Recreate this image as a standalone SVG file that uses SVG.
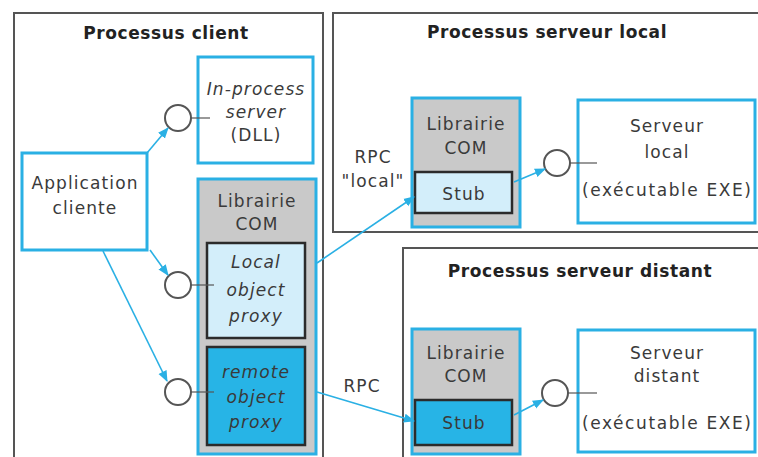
<svg xmlns="http://www.w3.org/2000/svg" width="758" height="457" viewBox="0 0 758 457">
<defs>
<style>
.proc{fill:#fff;stroke:#555;stroke-width:2}
.blue{fill:#fff;stroke:#2ab0e4;stroke-width:3}
.lib{fill:#c9c9c9;stroke:#2ab0e4;stroke-width:3}
.lt{fill:#d3eefa;stroke:#2b2b2b;stroke-width:2.5}
.dk{fill:#27b4e6;stroke:#2b2b2b;stroke-width:2.5}
.ring{fill:#fff;stroke:#555;stroke-width:2}
.tick{stroke:#555;stroke-width:1.2}
.con{stroke:#2ab0e4;stroke-width:1.6;fill:none}
text{font-family:"DejaVu Sans","Liberation Sans",sans-serif;font-size:17px;letter-spacing:1.1px;fill:#3a3a3a;text-anchor:middle}
.title{font-weight:bold;fill:#222;letter-spacing:0.6px}
.it{font-style:italic}
</style>
<marker id="ah" viewBox="0 0 10 10" refX="9" refY="5" markerWidth="7" markerHeight="7" orient="auto-start-reverse">
<path d="M0,1 L10,5 L0,9 z" fill="#2ab0e4"/>
</marker>
</defs>
<rect width="758" height="457" fill="#fff"/>

<g id="proc-client">
<rect class="proc" x="14" y="13" width="309" height="460"/>
<text class="title" x="166" y="39">Processus client</text>
</g>
<g id="proc-local">
<rect class="proc" x="333" y="13" width="440" height="219"/>
<text class="title" x="547" y="38">Processus serveur local</text>
</g>
<g id="proc-distant">
<rect class="proc" x="403" y="248" width="370" height="230"/>
<text class="title" x="580" y="277">Processus serveur distant</text>
</g>

<g id="inproc">
<rect class="blue" x="198" y="57" width="115" height="106"/>
<text class="it" x="256" y="95">In-process</text>
<text class="it" x="256" y="118">server</text>
<text x="256" y="141">(DLL)</text>
</g>
<g id="app">
<rect class="blue" x="22" y="153" width="125" height="97"/>
<text x="85" y="189">Application</text>
<text x="85" y="214">cliente</text>
</g>
<g id="lib-client">
<rect class="lib" x="198" y="179" width="118" height="275"/>
<text x="257" y="207">Librairie</text>
<text x="257" y="230">COM</text>
</g>
<g id="local-proxy">
<rect class="lt" x="207" y="243" width="98" height="95"/>
<text class="it" x="256" y="268">Local</text>
<text class="it" x="256" y="296">object</text>
<text class="it" x="256" y="322">proxy</text>
</g>
<g id="remote-proxy">
<rect class="dk" x="207" y="347" width="98" height="98"/>
<text class="it" x="256" y="378">remote</text>
<text class="it" x="256" y="403">object</text>
<text class="it" x="256" y="428">proxy</text>
</g>

<g id="lib-local">
<rect class="lib" x="412" y="98" width="108" height="129"/>
<text x="466" y="130">Librairie</text>
<text x="466" y="154">COM</text>
</g>
<g id="stub-local">
<rect class="lt" x="415" y="172" width="97" height="41"/>
<text x="464" y="200">Stub</text>
</g>
<g id="serveur-local">
<rect class="blue" x="578" y="100" width="177" height="123"/>
<text x="667" y="132">Serveur</text>
<text x="667" y="158">local</text>
<text x="667" y="196" textLength="170">(exécutable EXE)</text>
</g>

<g id="lib-distant">
<rect class="lib" x="412" y="329" width="108" height="125"/>
<text x="466" y="359">Librairie</text>
<text x="466" y="382">COM</text>
</g>
<g id="stub-distant">
<rect class="dk" x="415" y="400" width="97" height="45"/>
<text x="464" y="429">Stub</text>
</g>
<g id="serveur-distant">
<rect class="blue" x="578" y="330" width="177" height="122"/>
<text x="667" y="359">Serveur</text>
<text x="667" y="382">distant</text>
<text x="667" y="429" textLength="170">(exécutable EXE)</text>
</g>

<g id="labels">
<text x="373" y="163">RPC</text>
<text x="373" y="187">"local"</text>
<text x="362" y="392">RPC</text>
</g>

<g id="interfaces">
<line class="tick" x1="191" y1="118" x2="210" y2="118"/>
<circle class="ring" cx="178" cy="118" r="13"/>
<line class="tick" x1="191" y1="285" x2="214" y2="285"/>
<circle class="ring" cx="178" cy="285" r="13"/>
<line class="tick" x1="191" y1="392" x2="214" y2="392"/>
<circle class="ring" cx="178" cy="392" r="13"/>
<line class="tick" x1="570" y1="163" x2="597" y2="163"/>
<circle class="ring" cx="557" cy="163" r="13"/>
<line class="tick" x1="568" y1="393" x2="597" y2="393"/>
<circle class="ring" cx="555" cy="393" r="13"/>
</g>

<g id="connectors">
<line class="con" x1="147" y1="153" x2="168" y2="128" marker-end="url(#ah)"/>
<line class="con" x1="150" y1="250" x2="168" y2="275" marker-end="url(#ah)"/>
<line class="con" x1="103" y1="251" x2="167" y2="381" marker-end="url(#ah)"/>
<line class="con" x1="317" y1="263" x2="414" y2="197" marker-end="url(#ah)"/>
<line class="con" x1="317" y1="392" x2="414" y2="421" marker-end="url(#ah)"/>
<line class="con" x1="514" y1="182" x2="545" y2="169" marker-end="url(#ah)"/>
<line class="con" x1="514" y1="415" x2="543" y2="400" marker-end="url(#ah)"/>
</g>
</svg>
